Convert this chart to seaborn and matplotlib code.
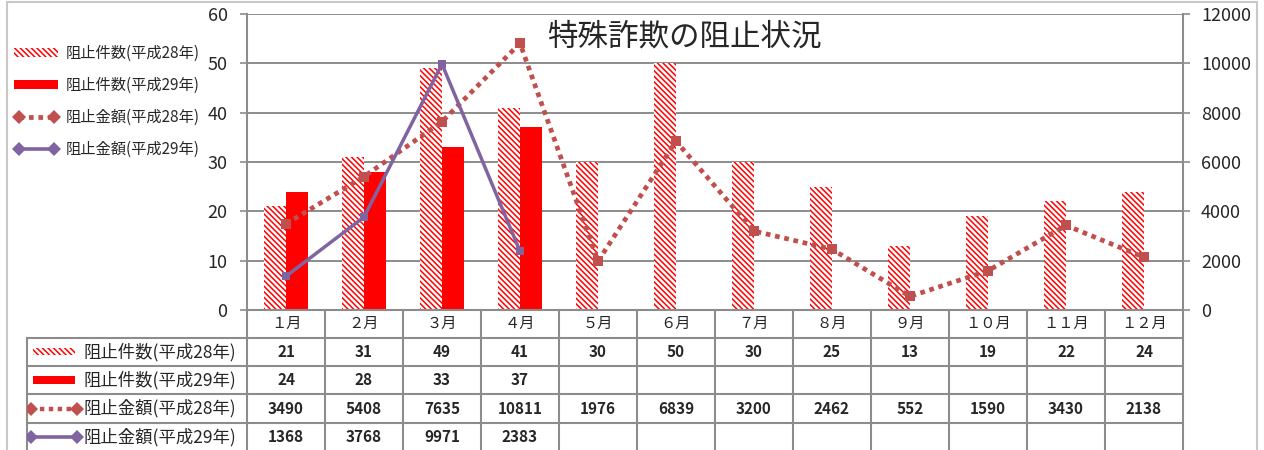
import numpy as np
import pandas as pd
import matplotlib
matplotlib.use("Agg")
import matplotlib.pyplot as plt
import seaborn as sns
from matplotlib.patches import Patch, Rectangle
from matplotlib.lines import Line2D

# ---------------- data ----------------
months = ["１月", "２月", "３月", "４月", "５月", "６月",
          "７月", "８月", "９月", "１０月", "１１月", "１２月"]
count_h28 = [21, 31, 49, 41, 30, 50, 30, 25, 13, 19, 22, 24]
count_h29 = [24, 28, 33, 37]
amount_h28 = [3490, 5408, 7635, 10811, 1976, 6839, 3200, 2462, 552, 1590, 3430, 2138]
amount_h29 = [1368, 3768, 9971, 2383]
series_labels = ["阻止件数(平成28年)", "阻止件数(平成29年)",
                 "阻止金額(平成28年)", "阻止金額(平成29年)"]
title = "特殊詐欺の阻止状況"
left_ticks = [0, 10, 20, 30, 40, 50, 60]
right_ticks = [0, 2000, 4000, 6000, 8000, 10000, 12000]

# ---------------- style ----------------
sns.set_theme(style="white")
plt.rcParams["font.family"] = ["Noto Sans CJK JP", "DejaVu Sans"]
plt.rcParams["hatch.linewidth"] = 1.1

RED = "#FF0000"
BROWN = "#C0504D"
PURPLE = "#8064A2"
GRID = "#8C8C8C"
HATCH = "\\\\\\\\\\\\"
DOT = (0, (1, 1))

W, H = 1264, 450
fig = plt.figure(figsize=(W / 100, H / 100), dpi=100)


def fx(px):
    return px / W


def fy(py):
    return 1 - py / H


L, R, T, B = 247, 1183, 14, 310
n = len(months)
colw = (R - L) / n

ax = fig.add_axes([fx(L), fy(B), fx(R) - fx(L), fy(T) - fy(B)])

df = pd.DataFrame({
    "month": months * 2,
    "series": [series_labels[0]] * n + [series_labels[1]] * n,
    "value": count_h28 + count_h29 + [np.nan] * (n - len(count_h29)),
})
sns.barplot(data=df, x="month", y="value", hue="series", order=months,
            palette=[RED, RED], width=0.57, saturation=1, errorbar=None,
            legend=False, ax=ax, zorder=2)
for bar in ax.containers[0]:
    bar.set_facecolor("white")
    bar.set_edgecolor(RED)
    bar.set_hatch(HATCH)
    bar.set_linewidth(0)
for bar in ax.containers[1]:
    bar.set_linewidth(0)

ax.set_ylim(0, 60)
ax.set_xlim(-0.5, n - 0.5)
ax.set_yticks(left_ticks)
ax.yaxis.grid(True, color=GRID, lw=1.4)
ax.set_axisbelow(True)
ax.set_xlabel("")
ax.set_ylabel("")
ax.tick_params(axis="x", bottom=False, labelbottom=False)
ax.tick_params(axis="y", left=True, length=5, width=1.2, color=GRID, pad=9,
               labelsize=13)
for s in ["top", "right"]:
    ax.spines[s].set_visible(False)
for s in ["left", "bottom"]:
    ax.spines[s].set_color(GRID)
    ax.spines[s].set_linewidth(1.5)

ax2 = ax.twinx()
sns.lineplot(x=months, y=amount_h28, ax=ax2, sort=False, color=BROWN,
             linestyle=DOT, linewidth=3.4, marker="s", markersize=7,
             markeredgewidth=0, legend=False)
sns.lineplot(x=months[:len(amount_h29)], y=amount_h29, ax=ax2, sort=False,
             color=PURPLE, linewidth=2.5, marker="s", markersize=6,
             markeredgewidth=0, legend=False)
ax2.set_ylim(0, 12000)
ax2.set_xlim(-0.5, n - 0.5)
ax2.set_yticks(right_ticks)
ax2.set_ylabel("")
ax2.tick_params(axis="y", right=True, length=5, width=1.2, color=GRID, pad=8,
                labelsize=13)
ax2.grid(False)
for s in ["top", "left", "bottom"]:
    ax2.spines[s].set_visible(False)
ax2.spines["right"].set_color(GRID)
ax2.spines["right"].set_linewidth(1.5)

# ---------------- title ----------------
fig.text(fx(684), fy(37), title, fontsize=22, ha="center", va="center")

# ---------------- legend ----------------
handles = [
    Patch(facecolor="white", edgecolor=RED, hatch=HATCH, linewidth=0),
    Patch(facecolor=RED, edgecolor=RED, linewidth=0),
    Line2D([], [], color=BROWN, linestyle=DOT, linewidth=3.4, marker="D",
           markersize=7, markeredgewidth=0),
    Line2D([], [], color=PURPLE, linewidth=2.6, marker="D", markersize=7,
           markeredgewidth=0),
]
fig.legend(handles, series_labels, loc="upper left",
           bbox_to_anchor=(fx(14), fy(45)), frameon=False, fontsize=11,
           handlelength=2.9, handleheight=0.5, handletextpad=0.5,
           labelspacing=0.97, borderaxespad=0, borderpad=0, numpoints=2)

# ---------------- data table ----------------
TL = 26.7
row_lines = [337.7, 366.0, 394.3, 422.7]
tx = fig.add_axes([fx(TL), fy(H), fx(R) - fx(TL), fy(B) - fy(H)])
x0 = -0.5 - (L - TL) / colw
tx.set_xlim(x0, n - 0.5)
tx.set_ylim(H, B)
tx.axis("off")


def px2x(px):
    return x0 + (px - TL) / colw


for k in range(n + 1):
    tx.plot([k - 0.5, k - 0.5], [B, H + 5], color=GRID, lw=1.5, clip_on=False)
tx.plot([x0, x0], [row_lines[0], H + 5], color=GRID, lw=1.5, clip_on=False)
for y in row_lines:
    tx.plot([x0, n - 0.5], [y, y], color=GRID, lw=1.5, clip_on=False)

# header
for i, m in enumerate(months):
    tx.text(i, (B + row_lines[0]) / 2, m, ha="center", va="center", fontsize=11)

row_h = row_lines[1] - row_lines[0]
row_centers = [(row_lines[0] + row_lines[1]) / 2,
               (row_lines[1] + row_lines[2]) / 2,
               (row_lines[2] + row_lines[3]) / 2,
               row_lines[3] + row_h / 2]
rows = [count_h28, count_h29, amount_h28, amount_h29]
for rc, vals in zip(row_centers, rows):
    for i, v in enumerate(vals):
        tx.text(i, rc, str(v), ha="center", va="center", fontsize=11,
                fontweight="bold")

# row labels with legend keys
for j, (rc, lab) in enumerate(zip(row_centers, series_labels)):
    tx.text(px2x(83), rc, lab, ha="left", va="center", fontsize=12.5)
    if j == 0:
        tx.add_patch(Rectangle((px2x(33), rc - 3.5), px2x(75) - px2x(33), 7,
                               facecolor="white", edgecolor=RED, hatch=HATCH,
                               linewidth=0))
    elif j == 1:
        tx.add_patch(Rectangle((px2x(33), rc - 4), px2x(75) - px2x(33), 8,
                               facecolor=RED, linewidth=0))
    elif j == 2:
        tx.plot([px2x(31), px2x(77)], [rc, rc], color=BROWN, linestyle=DOT,
                lw=3.2, marker="D", markersize=7, markeredgewidth=0)
    else:
        tx.plot([px2x(31), px2x(77)], [rc, rc], color=PURPLE, lw=2.6,
                marker="D", markersize=7, markeredgewidth=0)

# outer chart border
fig.add_artist(Rectangle((fx(7), fy(470)), fx(1257) - fx(7), fy(2) - fy(470),
                         transform=fig.transFigure, fill=False,
                         edgecolor="#C8C8C8", linewidth=1.5, clip_on=False))

fig.savefig("out.png", dpi=100)
